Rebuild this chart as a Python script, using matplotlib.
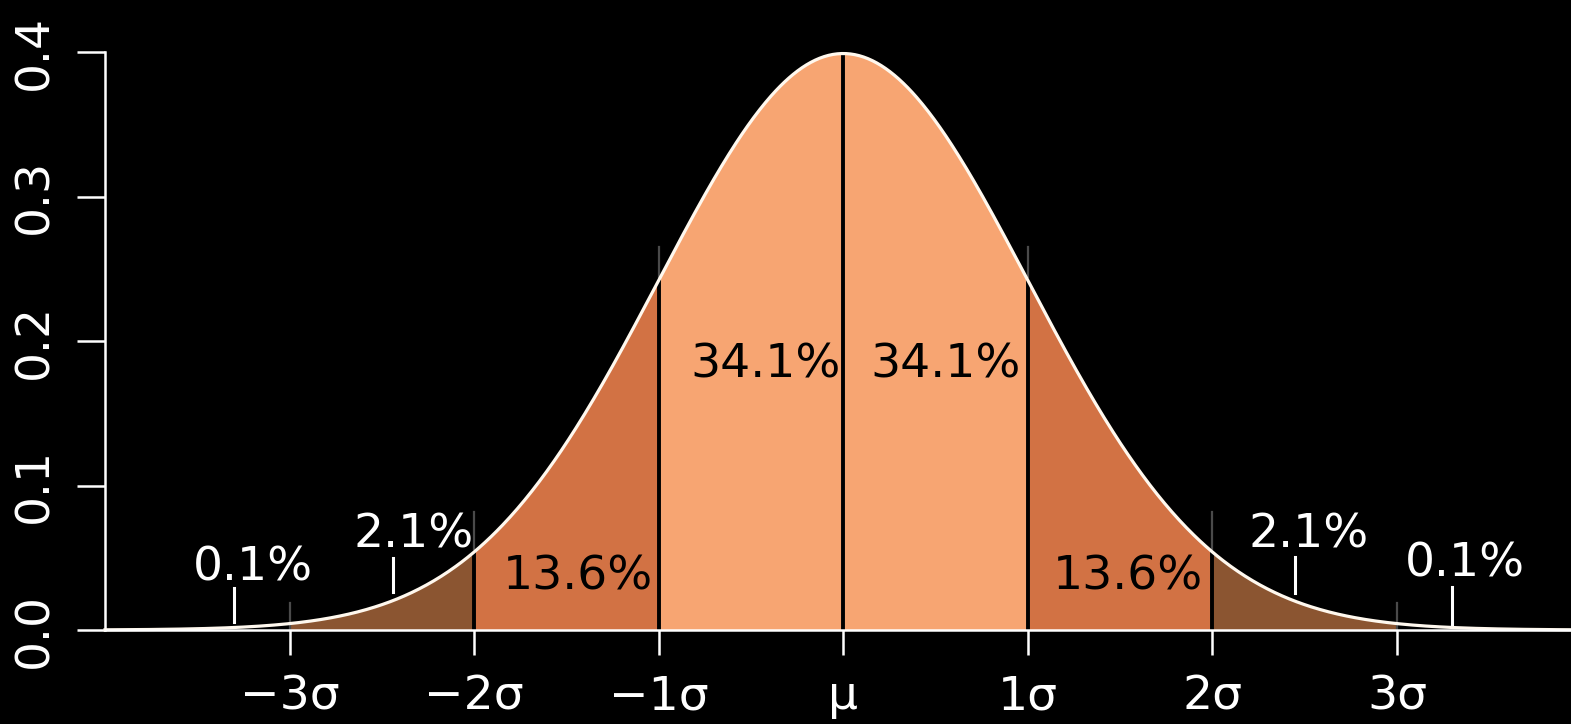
import numpy as np
import matplotlib.pyplot as plt

# distribution and band limits (in sigma units)
mu = 0.0
sigma = 1.0
edges = [-3, -2, -1, 0, 1, 2, 3]
band_colors = ['#8b5531', '#d27244', '#f7a572', '#f7a572', '#d27244', '#8b5531']

# percentage labels: text, x, baseline y, colour
pct_text = ['0.1%', '2.1%', '13.6%', '34.1%', '34.1%', '13.6%', '2.1%', '0.1%']
pct_x = [-3.20, -2.33, -1.44, -0.42, 0.555, 1.54, 2.52, 3.37]
pct_y = [0.0346, 0.0574, 0.0277, 0.175, 0.175, 0.0277, 0.0574, 0.0367]
pct_col = ['white', 'white', 'black', 'black', 'black', 'black', 'white', 'white']

# small white pointer marks for the outer labels
mark_x = [-3.30, -2.44, 2.45, 3.30]
mark_lo = [0.0055, 0.0263, 0.0256, 0.0042]
mark_hi = [0.0290, 0.0498, 0.0505, 0.0298]

# thin grey guides above the band limits
guide_x = [-3, -2, -1, 1, 2, 3]
guide_hi = [0.0187, 0.0817, 0.265, 0.265, 0.0817, 0.0187]

xtick_pos = [-3, -2, -1, 0, 1, 2, 3]
xtick_lab = ['\u22123\u03c3', '\u22122\u03c3', '\u22121\u03c3', '\u03bc', '1\u03c3', '2\u03c3', '3\u03c3']
ytick_pos = [0.0, 0.1, 0.2, 0.3, 0.4]

def pdf(x):
    return np.exp(-0.5 * ((x - mu) / sigma) ** 2) / (sigma * np.sqrt(2 * np.pi))

fig = plt.figure(figsize=(15.71, 7.24), dpi=100, facecolor='black')
ax = fig.add_axes([105 / 1571, 94 / 724, 1 - 105 / 1571, 578 / 724])
ax.set_facecolor('black')
ax.set_xlim(-4, 3.943)
ax.set_ylim(0, 0.4)

for i in range(len(edges) - 1):
    xs = np.linspace(edges[i], edges[i + 1], 200)
    ax.fill_between(xs, 0, pdf(xs), color=band_colors[i], lw=0, zorder=1)

for gx, gh in zip(guide_x, guide_hi):
    ax.plot([gx, gx], [0, gh], color='#4a4a4a', lw=1.6, zorder=2)

for e in [-2, -1, 0, 1, 2]:
    ax.plot([e, e], [0, pdf(e)], color='black', lw=2.8, zorder=3)

xc = np.linspace(-4, 3.943, 1000)
ax.plot(xc, pdf(xc), color='#fff8ee', lw=2.3, zorder=4, clip_on=False)

for mx, lo, hi in zip(mark_x, mark_lo, mark_hi):
    ax.plot([mx, mx], [lo, hi], color='white', lw=2.2, zorder=5)

for t, x, y, c in zip(pct_text, pct_x, pct_y, pct_col):
    ax.text(x, y, t, color=c, fontsize=34, ha='center', va='baseline', zorder=6)

for s in ['top', 'right']:
    ax.spines[s].set_visible(False)
ax.spines['left'].set_color('white')
ax.spines['left'].set_linewidth(1.8)
ax.spines['bottom'].set_color('white')
ax.spines['bottom'].set_linewidth(1.8)
ax.spines['bottom'].set_zorder(4)

ax.set_xticks(xtick_pos)
ax.set_xticklabels(xtick_lab)
ax.set_yticks(ytick_pos)
ax.set_yticklabels(['%.1f' % v for v in ytick_pos], rotation=90, va='center')
ax.tick_params(axis='x', colors='white', length=18, width=1.8, labelsize=34, pad=14)
ax.tick_params(axis='y', colors='white', length=20, width=1.8, labelsize=34, pad=14)

fig.savefig('out.png', dpi=100, facecolor='black')
